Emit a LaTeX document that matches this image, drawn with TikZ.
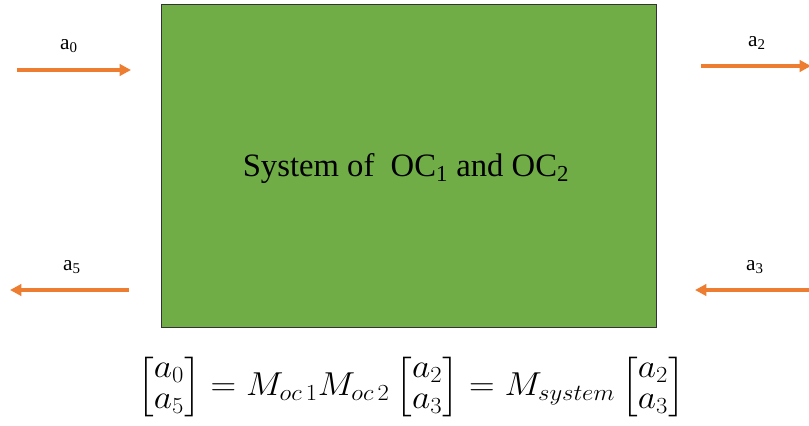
\documentclass[tikz,border=0pt]{standalone}
\usepackage{amsmath}
\usepackage{graphicx}
\usepackage{fontspec}
\setmainfont{Liberation Serif}
\usetikzlibrary{arrows.meta}
\definecolor{boxgreen}{HTML}{70AD47}
\definecolor{arrorange}{HTML}{ED7D31}
\tikzset{
  sysbox/.style={draw=black!80, line width=0.8pt, fill=boxgreen},
  flow/.style={draw=arrorange, line width=2.4pt, -{Triangle[length=8.5pt,width=8.5pt]}},
  lbl/.style={font=\fontsize{16}{18}\selectfont, inner sep=0pt}
}
\begin{document}
\begin{tikzpicture}[x=0.75pt,y=-0.75pt]
\useasboundingbox (0,0) rectangle (809,425);
\node[sysbox, minimum width=495*0.75pt, minimum height=323*0.75pt, anchor=north west, inner sep=0pt] (box) at (161,4) {};
\node[font=\fontsize{24.5}{28}\selectfont] (title) at (406,169) {System of\ \ OC\textsubscript{1} and OC\textsubscript{2}};
% arrows
\coordinate (a0s) at (17,70);  \coordinate (a0e) at (131,70);
\coordinate (a2s) at (701,66); \coordinate (a2e) at (811,66);
\coordinate (a5s) at (129,290); \coordinate (a5e) at (10,290);
\coordinate (a3s) at (811,290); \coordinate (a3e) at (695,290);
\draw[flow] (a0s) -- (a0e);
\draw[flow] (a2s) -- (a2e);
\draw[flow] (a5s) -- (a5e);
\draw[flow] (a3s) -- (a3e);
\node[lbl] (l0) at (69,46) {a\textsubscript{0}};
\node[lbl] (l2) at (757,43) {a\textsubscript{2}};
\node[lbl] (l5) at (72,267) {a\textsubscript{5}};
\node[lbl] (l3) at (755,267) {a\textsubscript{3}};
\node[font=\fontsize{25}{30}\selectfont, inner sep=0pt] (eq) at (411,387) {\scalebox{1.07}[1]{\renewcommand{\arraystretch}{0.78}$\begin{bmatrix}a_0\\a_5\end{bmatrix} = M_{oc\,1}M_{oc\,2}\begin{bmatrix}a_2\\a_3\end{bmatrix} = M_{system}\begin{bmatrix}a_2\\a_3\end{bmatrix}$}};
\end{tikzpicture}
\end{document}
